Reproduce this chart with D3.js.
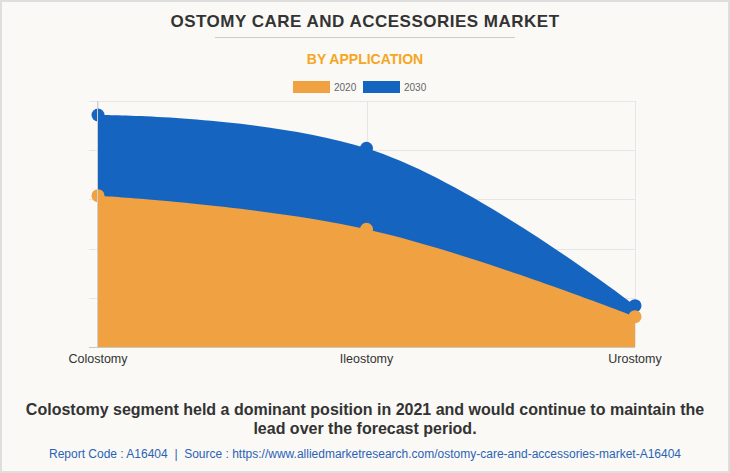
<!DOCTYPE html>
<html>
<head>
<meta charset="utf-8">
<script src="https://cdn.jsdelivr.net/npm/d3@7"></script>
<style>
  html, body { margin: 0; padding: 0; background: #faf9f5; }
  svg { display: block; }
  text { font-family: "Liberation Sans", Arial, sans-serif; white-space: pre; }
</style>
</head>
<body>
<svg id="chart" width="730" height="473"></svg>
<script>
// ---- data ----
const categories = ["Colostomy", "Ileostomy", "Urostomy"];
const seriesNames = ["2020", "2030"];
const values2020 = [1538, 1196, 308];
const values2030 = [2358, 2019, 420];
const yTicks = [0, 500, 1000, 1500, 2000, 2500];
const colors = { "2020": "#f0a142", "2030": "#1565c0" };

const title = "OSTOMY CARE AND ACCESSORIES MARKET";
const subtitle = "BY APPLICATION";
const caption1 = "Colostomy segment held a dominant position in 2021 and would continue to maintain the";
const caption2 = "lead over the forecast period.";
const source = "Report Code : A16404  |  Source : https://www.alliedmarketresearch.com/ostomy-care-and-accessories-market-A16404";

// ---- Highcharts-like spline curve ----
function splineConts(p, i) {
  const n = p.length;
  if (i === 0 || i === n - 1) return {};
  const s = 1.5, d = s + 1;
  const [x, y] = p[i], [lx, ly] = p[i - 1], [nx, ny] = p[i + 1];
  let lcx = (s * x + lx) / d, lcy = (s * y + ly) / d;
  let rcx = (s * x + nx) / d, rcy = (s * y + ny) / d;
  if (rcx !== lcx) {
    const corr = ((rcy - lcy) * (rcx - x)) / (rcx - lcx) + y - rcy;
    lcy += corr; rcy += corr;
    if (lcy > ly && lcy > y) { lcy = Math.max(ly, y); rcy = 2 * y - lcy; }
    else if (lcy < ly && lcy < y) { lcy = Math.min(ly, y); rcy = 2 * y - lcy; }
    if (rcy > ny && rcy > y) { rcy = Math.max(ny, y); lcy = 2 * y - rcy; }
    else if (rcy < ny && rcy < y) { rcy = Math.min(ny, y); lcy = 2 * y - rcy; }
  }
  return { lx: lcx, ly: lcy, rx: rcx, ry: rcy };
}
function HCSpline(ctx) { this._context = ctx; }
HCSpline.prototype = {
  areaStart() { this._line = 0; },
  areaEnd() { this._line = NaN; },
  lineStart() { this._pts = []; },
  point(x, y) { this._pts.push([+x, +y]); },
  lineEnd() {
    const p = this._pts, c = this._context, n = p.length;
    if (n) {
      this._line ? c.lineTo(p[0][0], p[0][1]) : c.moveTo(p[0][0], p[0][1]);
      const cs = p.map((_, i) => splineConts(p, i));
      for (let i = 1; i < n; i++) {
        const a = cs[i - 1], b = cs[i];
        c.bezierCurveTo(
          a.rx ?? p[i - 1][0], a.ry ?? p[i - 1][1],
          b.lx ?? p[i][0], b.ly ?? p[i][1],
          p[i][0], p[i][1]);
      }
    }
    if (this._line || (this._line !== 0 && n === 1)) c.closePath();
    this._line = 1 - this._line;
  }
};
const curveHC = ctx => new HCSpline(ctx);

// ---- layout ----
const W = 730, H = 473;
const plot = { left: 98, right: 635, top: 101, bottom: 347 };
const svg = d3.select("#chart");

// frame
svg.append("rect").attr("x", 1).attr("y", 1).attr("width", W - 2).attr("height", H - 2)
  .attr("fill", "#faf9f5").attr("stroke", "#dedede").attr("stroke-width", 2);

// title
svg.append("text").attr("x", 365).attr("y", 27).attr("text-anchor", "middle")
  .attr("font-size", 17).attr("font-weight", "bold").attr("letter-spacing", 0.5)
  .attr("fill", "#333").text(title);
svg.append("line").attr("x1", 215).attr("x2", 515).attr("y1", 37.5).attr("y2", 37.5)
  .attr("stroke", "#cccccc").attr("stroke-width", 1);
svg.append("text").attr("x", 365).attr("y", 64).attr("text-anchor", "middle")
  .attr("font-size", 14).attr("font-weight", "bold").attr("fill", "#f5a623").text(subtitle);

// legend
const legendX = [293, 363];
seriesNames.forEach((s, i) => {
  const g = svg.append("g").attr("transform", `translate(${legendX[i]},81)`);
  g.append("rect").attr("width", 37).attr("height", 12).attr("fill", colors[s]);
  g.append("text").attr("x", 41).attr("y", 10).attr("font-size", 10).attr("fill", "#666").text(s);
});

// scales
const x = d3.scalePoint().domain(categories).range([plot.left, plot.right]).padding(0);
const y = d3.scaleLinear().domain([0, 2500]).range([plot.bottom, plot.top]);

// grid
const grid = svg.append("g");
grid.selectAll("line.h").data(yTicks).join("line").attr("class", "h")
  .attr("x1", plot.left - 9).attr("x2", plot.right)
  .attr("y1", d => Math.round(y(d)) + 0.5).attr("y2", d => Math.round(y(d)) + 0.5)
  .attr("stroke", "#e6e6e6");
grid.selectAll("line.v").data(categories).join("line").attr("class", "v")
  .attr("x1", d => Math.round(x(d)) + 0.5).attr("x2", d => Math.round(x(d)) + 0.5)
  .attr("y1", plot.top).attr("y2", plot.bottom)
  .attr("stroke", "#e6e6e6");

// areas
const seriesData = { "2020": values2020, "2030": values2030 };
const drawOrder = ["2030", "2020"];
drawOrder.forEach(s => {
  const pts = categories.map((c, i) => ({ c, v: seriesData[s][i] }));
  const area = d3.area().curve(curveHC)
    .x(d => x(d.c)).y0(y(0)).y1(d => y(d.v));
  svg.append("path").datum(pts).attr("d", area).attr("fill", colors[s]);
  svg.selectAll(null).data(pts).join("circle")
    .attr("cx", d => x(d.c)).attr("cy", d => y(d.v)).attr("r", 6.5)
    .attr("fill", colors[s]);
});

// axes lines
svg.append("line").attr("x1", plot.left - 9).attr("x2", plot.right)
  .attr("y1", plot.bottom + 0.5).attr("y2", plot.bottom + 0.5).attr("stroke", "#c8c8c8");
svg.append("line").attr("x1", plot.left - 0.5).attr("x2", plot.left - 0.5)
  .attr("y1", plot.top).attr("y2", plot.bottom).attr("stroke", "#d0d0d0");

// x labels
svg.selectAll("text.xl").data(categories).join("text").attr("class", "xl")
  .attr("x", d => x(d)).attr("y", 363).attr("text-anchor", "middle")
  .attr("font-size", 12.5).attr("fill", "#333").text(d => d);

// caption
svg.append("text").attr("x", 365).attr("y", 415).attr("text-anchor", "middle")
  .attr("font-size", 16).attr("font-weight", "bold").attr("fill", "#333").text(caption1);
svg.append("text").attr("x", 365).attr("y", 434).attr("text-anchor", "middle")
  .attr("font-size", 16).attr("font-weight", "bold").attr("fill", "#333").text(caption2);
svg.append("text").attr("x", 365).attr("y", 458).attr("text-anchor", "middle")
  .attr("font-size", 12).attr("fill", "#2a63b6").text(source);
</script>
</body>
</html>
